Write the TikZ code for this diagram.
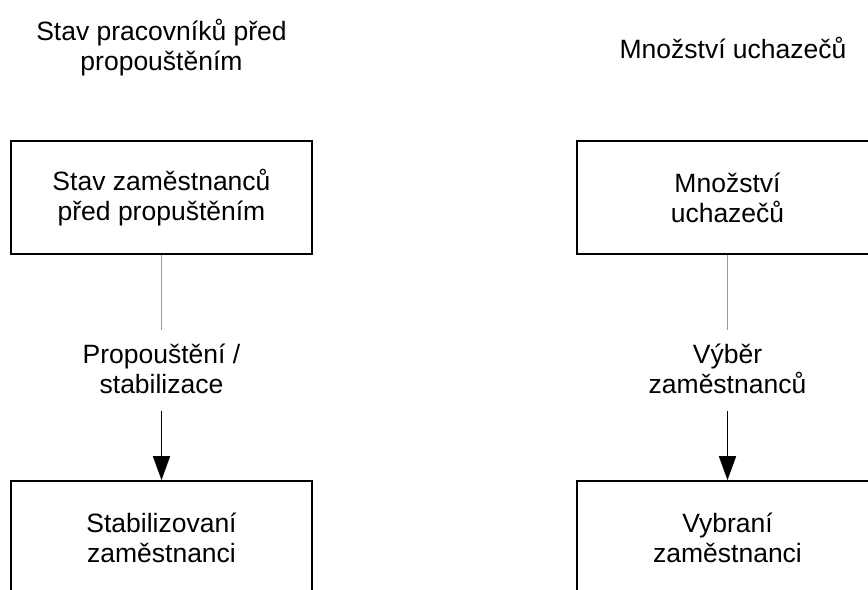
\documentclass[tikz,border=0pt]{standalone}
\usepackage{fontspec}
\setmainfont{Liberation Sans}
\usetikzlibrary{arrows.meta}
\begin{document}
\begin{tikzpicture}[x=1bp,y=-1bp,
  every node/.style={font=\fontsize{26.5bp}{30bp}\selectfont, align=center},
  stagebox/.style={draw=black, line width=1.6bp, minimum width=301bp, minimum height=113bp, inner sep=0pt},
  caption/.style={inner sep=0pt},
  feed/.style={draw=gray!80, line width=1bp},
  flow/.style={draw=black, line width=1.6bp, -{Triangle[length=24bp,width=17bp]}}]
  \useasboundingbox (0,0) rectangle (868,590);
  \clip (0,0) rectangle (868,590);

  % column headings
  \node[caption] (hl) at (161.5,48) {Stav pracovníků před\\propouštěním};
  \node[caption] (hr) at (733,48) {Množství uchazečů};

  % left column: dismissal / stabilisation
  \node[stagebox] (sl) at (161.5,197.5) {Stav zaměstnanců\\před propuštěním};
  \node[caption] (pl) at (161.5,369) {Propouštění /\\stabilizace};
  \node[stagebox] (el) at (161.5,537.5) {Stabilizovaní\\zaměstnanci};
  \coordinate (pl-in) at (161.5,330);
  \coordinate (pl-out) at (161.5,411);
  \draw[feed] (sl.south) -- (pl-in);
  \draw[flow] (pl-out) -- (el.north);

  % right column: recruitment
  \node[stagebox] (sr) at (727.5,197.5) {Množství\\uchazečů};
  \node[caption] (pr) at (727.5,369) {Výběr\\zaměstnanců};
  \node[stagebox] (er) at (727.5,537.5) {Vybraní\\zaměstnanci};
  \coordinate (pr-in) at (727.5,330);
  \coordinate (pr-out) at (727.5,411);
  \draw[feed] (sr.south) -- (pr-in);
  \draw[flow] (pr-out) -- (er.north);
\end{tikzpicture}
\end{document}
